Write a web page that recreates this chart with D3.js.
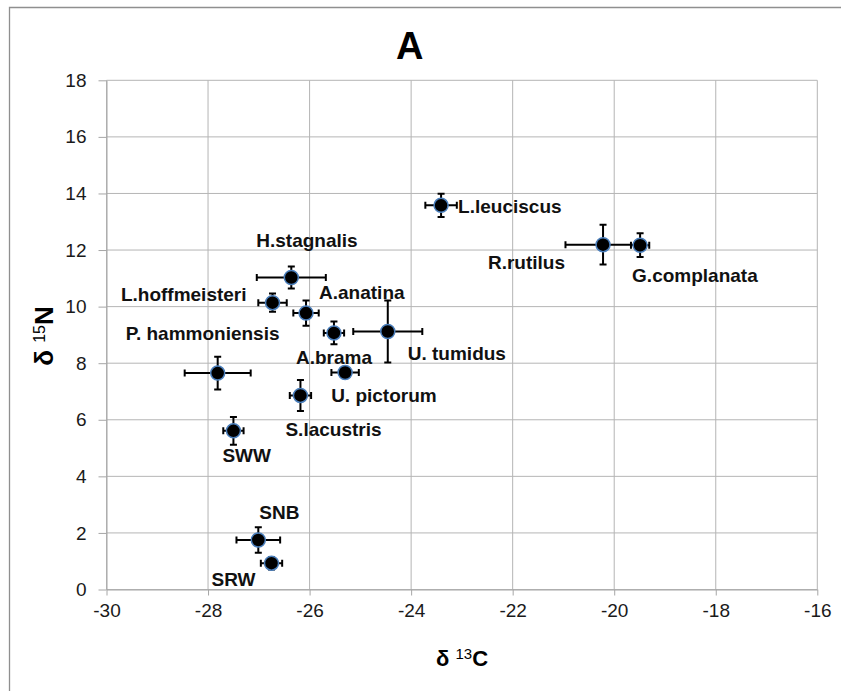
<!DOCTYPE html>
<html lang="en">

<head>
  <meta charset="utf-8">
  <title>Isotope biplot A</title>
  <script src="https://d3js.org/d3.v7.min.js"></script>
  <style>
    body { margin: 0; background: #fff; }
    text { font-family: "Liberation Sans", Arial, sans-serif; }
    .tick text { font-size: 19px; fill: #1a1a1a; }
    .tick line { stroke: #a6a6a6; }
    .domain { stroke: #a6a6a6; }
    .lbl { font-size: 19px; font-weight: bold; fill: #111; }
  </style>
</head>

<body>
  <script type="text/javascript">
  // species / sample groups
  var categories = ["L.leuciscus", "R.rutilus", "G.complanata", "H.stagnalis",
    "L.hoffmeisteri", "A.anatina", "P. hammoniensis", "A.brama", "U. tumidus",
    "U. pictorum", "S.lacustris", "SWW", "SNB", "SRW"];
  // mean values and error (+/-)
  var d13C = [-23.41, -20.22, -19.49, -26.36, -26.73, -26.07, -27.81, -25.52, -24.46, -25.30, -26.18, -27.50, -27.01, -26.75];
  var d15N = [13.58, 12.19, 12.17, 11.03, 10.14, 9.77, 7.65, 9.07, 9.12, 7.67, 6.86, 5.61, 1.75, 0.93];
  var errC = [0.31, 0.74, 0.18, 0.68, 0.28, 0.25, 0.65, 0.20, 0.68, 0.27, 0.21, 0.20, 0.43, 0.21];
  var errN = [0.41, 0.70, 0.42, 0.39, 0.32, 0.45, 0.58, 0.40, 1.10, 0.15, 0.55, 0.49, 0.45, 0.22];
  var xTicks = [-30, -28, -26, -24, -22, -20, -18, -16];
  var yTicks = [0, 2, 4, 6, 8, 10, 12, 14, 16, 18];

  // label placement next to each point (px offset, anchor)
  var labelPos = [[17, 1, "start"], [-38, 18, "end"], [-8, 30, "start"], [-35, -37, "start"],
    [-26, -8, "end"], [13, -21, "start"], [-92, -40, "start"], [-38, 24, "start"],
    [20, 22, "start"], [-14, 23, "start"], [-15, 34, "start"], [-11, 25, "start"],
    [1, -28, "start"], [-16, 16, "end"]];

  var w = 841, h = 691;
  var margin = {top: 80.3, left: 106.5};
  var innerW = 710.8, innerH = 509.2;

  var data = categories.map(function(c, i) {
    return {name: c, x: d13C[i], y: d15N[i], ex: errC[i], ey: errN[i], lp: labelPos[i]};
  });

  var svg = d3.select('body').append('svg')
      .attr('width', w)
      .attr('height', h);

  // chart border (only left/top visible in crop)
  svg.append('path')
    .attr('d', 'M9.5,' + h + 'V7.5H' + w)
    .style('fill', 'none')
    .style('stroke', '#8f8f8f')
    .style('stroke-width', 1.3);

  var g = svg.append('g')
      .attr('transform', 'translate(' + [margin.left, margin.top] + ')');

  var x = d3.scaleLinear().domain([-30, -16]).range([0, innerW]);
  var y = d3.scaleLinear().domain([0, 18]).range([innerH, 0]);
  var fmt = function(d) { return String(d); }; // plain hyphen minus like the original

  // grid
  g.selectAll('.gx').data(xTicks).enter().append('line')
    .attr('x1', function(d) { return x(d); }).attr('x2', function(d) { return x(d); })
    .attr('y1', 0).attr('y2', innerH)
    .style('stroke', '#b5b5b5');
  g.selectAll('.gy').data(yTicks).enter().append('line')
    .attr('y1', function(d) { return y(d); }).attr('y2', function(d) { return y(d); })
    .attr('x1', 0).attr('x2', innerW)
    .style('stroke', '#b5b5b5');

  g.append('g')
    .attr('transform', 'translate(0,' + innerH + ')')
    .call(d3.axisBottom(x).tickValues(xTicks).tickFormat(fmt).tickSize(6).tickPadding(8).tickSizeOuter(0));
  g.append('g')
    .call(d3.axisLeft(y).tickValues(yTicks).tickFormat(fmt).tickSize(8).tickPadding(12).tickSizeOuter(0));
  g.selectAll('.tick text').attr('font-family', null).attr('font-size', null);

  // error bars
  var cap = 3.5;
  var eb = g.append('g').style('stroke', '#000').style('stroke-width', 2).style('fill', 'none');
  eb.selectAll('.ex').data(data).enter().append('path')
    .attr('d', function(d) {
      var x0 = x(d.x - d.ex), x1 = x(d.x + d.ex), yy = y(d.y);
      return 'M' + x0 + ',' + yy + 'H' + x1 +
        'M' + x0 + ',' + (yy - cap) + 'V' + (yy + cap) +
        'M' + x1 + ',' + (yy - cap) + 'V' + (yy + cap);
    });
  eb.selectAll('.ey').data(data).enter().append('path')
    .attr('d', function(d) {
      var y0 = y(d.y - d.ey), y1 = y(d.y + d.ey), xx = x(d.x);
      return 'M' + xx + ',' + y0 + 'V' + y1 +
        'M' + (xx - cap) + ',' + y0 + 'H' + (xx + cap) +
        'M' + (xx - cap) + ',' + y1 + 'H' + (xx + cap);
    });

  // markers
  g.selectAll('circle').data(data).enter().append('circle')
    .attr('cx', function(d) { return x(d.x); })
    .attr('cy', function(d) { return y(d.y); })
    .attr('r', 7)
    .style('fill', '#000')
    .style('stroke', '#4a7ebb')
    .style('stroke-width', 1.5);

  // data labels
  g.selectAll('.lbl').data(data).enter().append('text')
    .attr('class', 'lbl')
    .attr('x', function(d) { return x(d.x) + d.lp[0]; })
    .attr('y', function(d) { return y(d.y) + d.lp[1]; })
    .attr('dy', '0.35em')
    .attr('text-anchor', function(d) { return d.lp[2]; })
    .text(function(d) { return d.name; });

  // title
  svg.append('text')
    .attr('x', 409.7).attr('y', 59)
    .attr('text-anchor', 'middle')
    .style('font-size', '38px').style('font-weight', 'bold')
    .text('A');

  // x axis title
  var xt = svg.append('text')
    .attr('x', 462).attr('y', 665.5)
    .attr('text-anchor', 'middle')
    .style('font-weight', 'bold').style('font-size', '22px');
  xt.append('tspan').text('δ ');
  xt.append('tspan').attr('dy', -7).style('font-size', '15px').style('font-weight', 'normal').text('13');
  xt.append('tspan').attr('dy', 7).text('C');

  // y axis title
  var yt = svg.append('text')
    .attr('transform', 'translate(53,336) rotate(-90)')
    .attr('text-anchor', 'middle')
    .style('font-weight', 'bold').style('font-size', '26px');
  yt.append('tspan').text('δ ');
  yt.append('tspan').attr('dy', -8).style('font-size', '16px').style('font-weight', 'normal').text('15');
  yt.append('tspan').attr('dy', 8).text('N');
  </script>
</body>

</html>
